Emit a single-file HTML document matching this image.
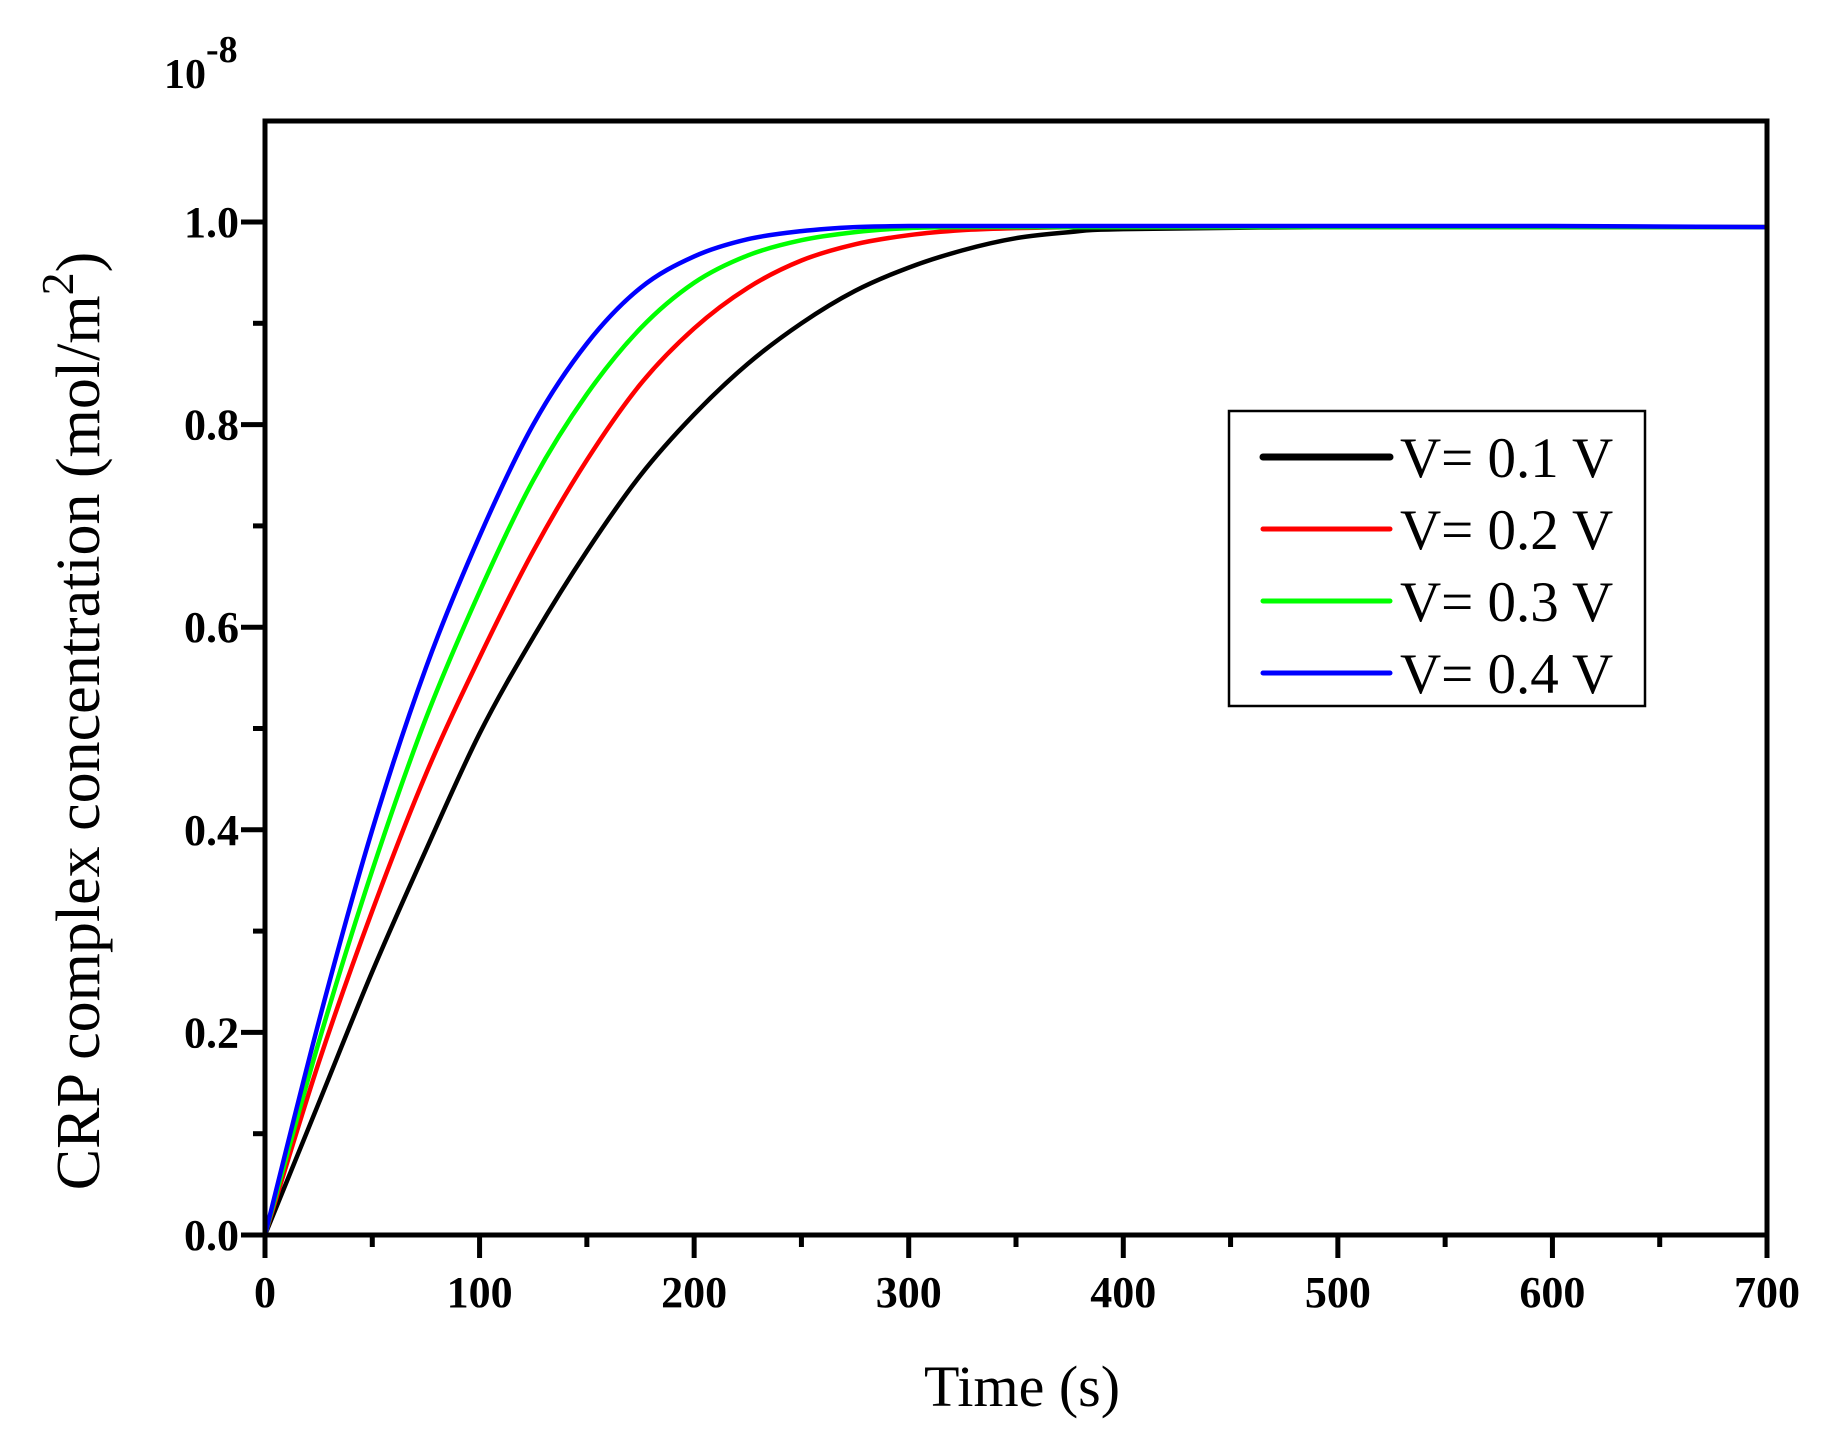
<!DOCTYPE html>
<html><head><meta charset="utf-8"><style>
html,body{margin:0;padding:0;background:#fff;}
svg{display:block;}
</style></head><body>
<svg id="chart" width="1826" height="1433" viewBox="0 0 1826 1433" xmlns="http://www.w3.org/2000/svg" font-family="'Liberation Serif', serif">
<rect width="1826" height="1433" fill="#fff"/>
<g id="series"></g>
<g id="axes"></g>
<text x="164" y="88" font-size="42" font-weight="bold">10<tspan dy="-26" font-size="38">-8</tspan></text>
<text x="1022" y="1406" font-size="58" text-anchor="middle">Time (s)</text>
<text transform="translate(99,721) rotate(-90)" font-size="62" text-anchor="middle">CRP complex concentration (mol/m<tspan dy="-26" font-size="46">2</tspan><tspan dy="26">)</tspan></text>
<g id="legend"></g>
</svg>
<script>
const times = [0,25,50,75,100,125,150,175,200,225,250,275,300,325,350,375,400,500,600,700];
const seriesLabels = ["V= 0.1 V","V= 0.2 V","V= 0.3 V","V= 0.4 V"];
const seriesColors = ["#000000","#ff0000","#00ff00","#0000ff"];
const v01 = [0,0.13,0.26,0.38,0.495,0.59,0.675,0.75,0.81,0.86,0.90,0.932,0.955,0.972,0.984,0.99,0.993,0.995,0.995,0.995];
const v02 = [0,0.17,0.32,0.455,0.57,0.675,0.765,0.84,0.895,0.935,0.962,0.978,0.987,0.992,0.994,0.995,0.995,0.995,0.995,0.995];
const v03 = [0,0.19,0.36,0.51,0.635,0.745,0.83,0.895,0.94,0.967,0.982,0.99,0.994,0.995,0.995,0.995,0.995,0.995,0.995,0.995];
const v04 = [0,0.21,0.40,0.56,0.69,0.80,0.88,0.935,0.966,0.983,0.991,0.995,0.996,0.996,0.996,0.996,0.996,0.996,0.996,0.995];
const xTicks = [0,100,200,300,400,500,600,700];
const yTicks = [0.0,0.2,0.4,0.6,0.8,1.0];
const yTickLabels = ["0.0","0.2","0.4","0.6","0.8","1.0"];

const X0=265, X1=1767, Y0=1235, Y1=222;
function xs(t){ return X0 + (t/700)*(X1-X0); }
function yScale(v){ return Y0 - v*(Y0-Y1); }
const NS="http://www.w3.org/2000/svg";
function mk(tag, attrs, parent){ const e=document.createElementNS(NS,tag); for(const k in attrs) e.setAttribute(k,attrs[k]); parent.appendChild(e); return e; }

const seriesG=document.getElementById('series');
const all=[v01,v02,v03,v04];
all.forEach((vals,si)=>{
  const pts=times.map((t,i)=>[xs(t),yScale(vals[i])]);
  let d="M"+pts[0][0]+","+pts[0][1];
  for(let i=0;i<pts.length-1;i++){
    const p0=pts[Math.max(0,i-1)],p1=pts[i],p2=pts[i+1],p3=pts[Math.min(pts.length-1,i+2)];
    const c1=[p1[0]+(p2[0]-p0[0])/6,p1[1]+(p2[1]-p0[1])/6];
    const c2=[p2[0]-(p3[0]-p1[0])/6,p2[1]-(p3[1]-p1[1])/6];
    d+=" C"+c1[0]+","+c1[1]+" "+c2[0]+","+c2[1]+" "+p2[0]+","+p2[1];
  }
  const p=mk('path',{d:d,fill:'none',stroke:seriesColors[si],'stroke-width':4.5,'stroke-linejoin':'round'},seriesG);
  
  
});

const ax=document.getElementById('axes');
const frame=mk('rect',{x:X0,y:121,width:X1-X0,height:Y0-121,fill:'none',stroke:'#000','stroke-width':5},ax);


for(let t=0;t<=700;t+=50){
  const major = t%100===0;
  const l=mk('line',{x1:xs(t),x2:xs(t),y1:Y0,y2:Y0+(major?23:12),stroke:'#000','stroke-width':5},ax);
  
  
}
xTicks.forEach(t=>{
  const tx=mk('text',{x:xs(t),y:Y0+72,'font-size':44,'font-weight':'bold','text-anchor':'middle'},ax);
  tx.textContent=t;
  
  
});
for(let k=0;k<=10;k++){
  const v=k/10, major=k%2===0;
  const l=mk('line',{x1:X0-(major?24:12),x2:X0,y1:yScale(v),y2:yScale(v),stroke:'#000','stroke-width':5},ax);
  
  
}
yTicks.forEach((v,i)=>{
  const tx=mk('text',{x:X0-26,y:yScale(v)+15,'font-size':44,'font-weight':'bold','text-anchor':'end'},ax);
  tx.textContent=yTickLabels[i];
  
  
});

const lg=document.getElementById('legend');
const box=mk('rect',{x:1229,y:411,width:416,height:295,fill:'#fff',stroke:'#000','stroke-width':2.5},lg);


seriesLabels.forEach((lab,i)=>{
  const y=457+i*72;
  const l=mk('line',{x1:1263,x2:1390,y1:y,y2:y,stroke:seriesColors[i],'stroke-width':i===0?7:5,'stroke-linecap':'round'},lg);
  
  
  const tx=mk('text',{x:1400,y:y+20,'font-size':57},lg);
  tx.textContent=lab;
  
  
});
</script>
</body></html>
